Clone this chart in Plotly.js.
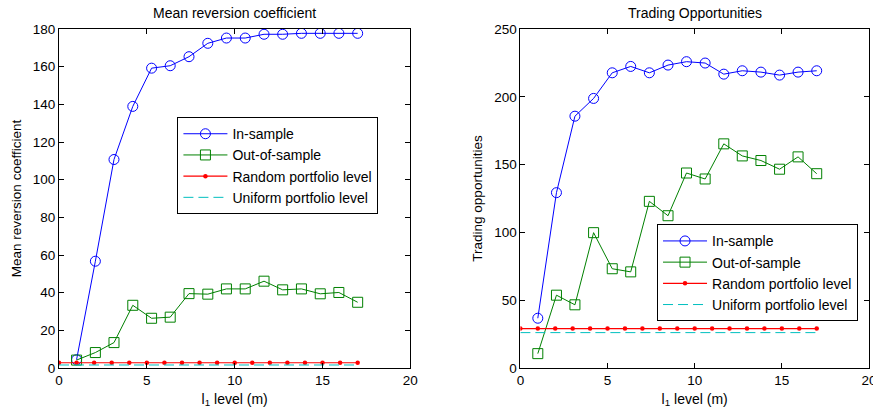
<!DOCTYPE html>
<html>
<head>
<meta charset="utf-8">
<script src="https://cdn.plot.ly/plotly-3.0.1.min.js"></script>
<style>html,body{margin:0;padding:0;background:#fff;}#chart{width:873px;height:415px;}</style>
</head>
<body>
<div id="chart"></div>
<script>
// ---- data ----
const l1Level = [1, 2.07, 3.13, 4.2, 5.27, 6.33, 7.4, 8.47, 9.53, 10.6, 11.67, 12.73, 13.8, 14.87, 15.93, 17];
const levelX = [0, 1, 2, 3, 4, 5, 6, 7, 8, 9, 10, 11, 12, 13, 14, 15, 16, 17];

const mrInSample = [4.4, 56.7, 110.7, 138.9, 159.2, 160.5, 165.3, 172.4, 175.2, 175.2, 177.2, 177.2, 177.7, 177.7, 177.7, 177.7];
const mrOutSample = [4.2, 8.2, 13.5, 33.3, 26.4, 27.0, 39.5, 39.2, 42.0, 42.0, 46.1, 41.5, 42.0, 39.4, 40.1, 34.9];
const mrRandomLevel = 2.8;
const mrUniformLevel = 1.6;

const toInSample = [36.7, 129.3, 185.7, 198.8, 217.7, 222.4, 217.7, 223.4, 225.9, 224.9, 216.7, 219.2, 218.2, 216.0, 218.2, 219.2];
const toOutSample = [10.6, 53.7, 46.6, 99.8, 73.2, 70.9, 122.9, 112.3, 143.8, 139.4, 165.3, 156.4, 153.0, 146.6, 155.7, 143.3];
const toRandomLevel = 29.1;
const toUniformLevel = 26.1;

const seriesNames = ['In-sample', 'Out-of-sample', 'Random portfolio level', 'Uniform portfolio level'];
const panelTitles = ['Mean reversion coefficient', 'Trading Opportunities'];
const yTitles = ['Mean reversion coefficient', 'Trading opportunities'];
const xTitle = 'l<sub>1</sub> level (m)';
const xTicks = [0, 5, 10, 15, 20];
const yTicksLeft = [0, 20, 40, 60, 80, 100, 120, 140, 160, 180];
const yTicksRight = [0, 50, 100, 150, 200, 250];

// ---- styles ----
const FONT = 'Arial, "Liberation Sans", Helvetica, sans-serif';
const BLUE = '#0000ff', GREEN = '#008000', RED = '#ff0000', CYAN = '#00bfbf';

function panel(xa, ya, leg, inS, outS, rnd, uni) {
  return [
    {x: l1Level, y: inS, xaxis: xa, yaxis: ya, legend: leg, name: seriesNames[0], type: 'scatter', mode: 'lines+markers',
     line: {color: BLUE, width: 1}, marker: {symbol: 'circle-open', size: 10, color: BLUE, line: {width: 1, color: BLUE}}},
    {x: l1Level, y: outS, xaxis: xa, yaxis: ya, legend: leg, name: seriesNames[1], type: 'scatter', mode: 'lines+markers',
     line: {color: GREEN, width: 1}, marker: {symbol: 'square-open', size: 10, color: GREEN, line: {width: 1, color: GREEN}}},
    {x: levelX, y: levelX.map(() => rnd), xaxis: xa, yaxis: ya, legend: leg, name: seriesNames[2], type: 'scatter', mode: 'lines+markers',
     line: {color: RED, width: 1.2}, marker: {symbol: 'circle', size: 4.5, color: RED}},
    {x: [levelX[0], levelX[levelX.length - 1]], y: [uni, uni], xaxis: xa, yaxis: ya, legend: leg, name: seriesNames[3], type: 'scatter', mode: 'lines',
     line: {color: CYAN, width: 1, dash: '10px,5px'}}
  ];
}

const data = [].concat(
  panel('x', 'y', 'legend', mrInSample, mrOutSample, mrRandomLevel, mrUniformLevel),
  panel('x2', 'y2', 'legend2', toInSample, toOutSample, toRandomLevel, toUniformLevel)
);

const axisBase = {
  showline: true, linecolor: '#000', linewidth: 1, mirror: 'ticks', ticks: 'inside', ticklen: 5,
  tickcolor: '#000', showgrid: false, zeroline: false, tickfont: {family: FONT, size: 13.5, color: '#000'},
  fixedrange: true, ticklabeloverflow: 'allow'
};

const legendBase = {
  bgcolor: '#fff', bordercolor: '#000', borderwidth: 1, font: {family: FONT, size: 14, color: '#000'},
  xanchor: 'left', yanchor: 'top', tracegroupgap: 0, itemwidth: 44
};

const layout = {
  width: 873, height: 415,
  margin: {l: 59.3, r: 3.7, t: 29.3, b: 47.3, pad: 0},
  paper_bgcolor: '#fff', plot_bgcolor: '#fff',
  font: {family: FONT, size: 13, color: '#000'},
  xaxis: Object.assign({}, axisBase, {domain: [0, 0.4338], range: [0, 20], tickvals: xTicks, anchor: 'y',
    title: {text: xTitle, font: {family: FONT, size: 14}, standoff: 6}}),
  yaxis: Object.assign({}, axisBase, {domain: [0, 1], range: [0, 180], tickvals: yTicksLeft, anchor: 'x',
    title: {text: yTitles[0], font: {family: FONT, size: 13.5}, standoff: 8}}),
  xaxis2: Object.assign({}, axisBase, {domain: [0.5696, 1], range: [0, 20], tickvals: xTicks, anchor: 'y2',
    title: {text: xTitle, font: {family: FONT, size: 14}, standoff: 6}}),
  yaxis2: Object.assign({}, axisBase, {domain: [0, 1], range: [0, 250], tickvals: yTicksRight, anchor: 'x2',
    title: {text: yTitles[1], font: {family: FONT, size: 13.5}, standoff: 8}}),
  legend: Object.assign({}, legendBase, {x: 0.1462, y: 0.740}),
  legend2: Object.assign({}, legendBase, {x: 0.7383, y: 0.4238}),
  annotations: [
    {text: panelTitles[0], xref: 'paper', yref: 'paper', x: 0.2169, y: 1.048, xanchor: 'center', yanchor: 'middle', showarrow: false,
     font: {family: FONT, size: 14, color: '#000'}},
    {text: panelTitles[1], xref: 'paper', yref: 'paper', x: 0.7848, y: 1.048, xanchor: 'center', yanchor: 'middle', showarrow: false,
     font: {family: FONT, size: 14, color: '#000'}}
  ],
  showlegend: true
};

Plotly.newPlot('chart', data, layout, {displayModeBar: false, staticPlot: true});
</script>
</body>
</html>
